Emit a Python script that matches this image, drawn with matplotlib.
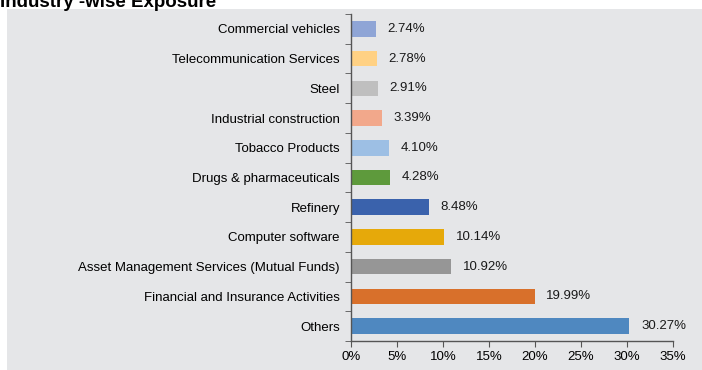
import matplotlib
matplotlib.use("Agg")
import matplotlib.pyplot as plt
from matplotlib.patches import Rectangle
from matplotlib.ticker import FixedLocator, FuncFormatter

categories = [
    "Others",
    "Financial and Insurance Activities",
    "Asset Management Services (Mutual Funds)",
    "Computer software",
    "Refinery",
    "Drugs & pharmaceuticals",
    "Tobacco Products",
    "Industrial construction",
    "Steel",
    "Telecommunication Services",
    "Commercial vehicles",
]
values = [30.27, 19.99, 10.92, 10.14, 8.48, 4.28, 4.10, 3.39, 2.91, 2.78, 2.74]
colors = [
    "#4F88C0", "#D8702B", "#969696", "#E6A90A", "#3A62AC", "#5E9A3C",
    "#9DBFE4", "#F2A88B", "#BFBFBF", "#FFD184", "#8FA5D6",
]
x_ticks = [0, 5, 10, 15, 20, 25, 30, 35]
title = "Industry -wise Exposure"

plt.rcParams["font.family"] = ["Liberation Sans", "DejaVu Sans"]

fig = plt.figure(figsize=(7.02, 3.70), dpi=100)
fig.patch.set_facecolor("white")
panel = Rectangle((7 / 702, 0), 1, 361 / 370, transform=fig.transFigure,
                  facecolor="#E5E6E8", edgecolor="none", zorder=-10)
fig.add_artist(panel)
fig.text(0.0, 1 - 7 / 370, title, fontsize=13.5, fontweight="bold", va="baseline", ha="left")

ax = fig.add_axes([351 / 702, 29 / 370, 322 / 702, 327 / 370])
ax.set_zorder(1)
ax.set_facecolor("none")
y = list(range(len(categories)))
ax.barh(y, values, height=0.52, color=colors, zorder=2)
for yi, v in zip(y, values):
    ax.text(v + 1.25, yi, f"{v:.2f}%", va="center", ha="left", fontsize=9.5, color="#1a1a1a")

ax.set_xlim(0, 35)
ax.set_ylim(-0.5, len(categories) - 0.5)
ax.set_xticks(x_ticks)
ax.xaxis.set_major_formatter(FuncFormatter(lambda v, _: f"{v:.0f}%"))
ax.set_yticks(y)
ax.set_yticklabels(categories)
ax.yaxis.set_minor_locator(FixedLocator([i - 0.5 for i in range(len(categories) + 1)]))
ax.tick_params(axis="y", which="major", length=0, pad=8, labelsize=9.5)
ax.tick_params(axis="y", which="minor", length=4, color="#555555", direction="out")
ax.tick_params(axis="x", which="major", length=4, color="#555555", direction="out",
               labelsize=9.5, pad=3)
for side in ("top", "right"):
    ax.spines[side].set_visible(False)
for side in ("left", "bottom"):
    ax.spines[side].set_color("#555555")
    ax.spines[side].set_linewidth(1.0)

fig.savefig("out.png", dpi=100)
